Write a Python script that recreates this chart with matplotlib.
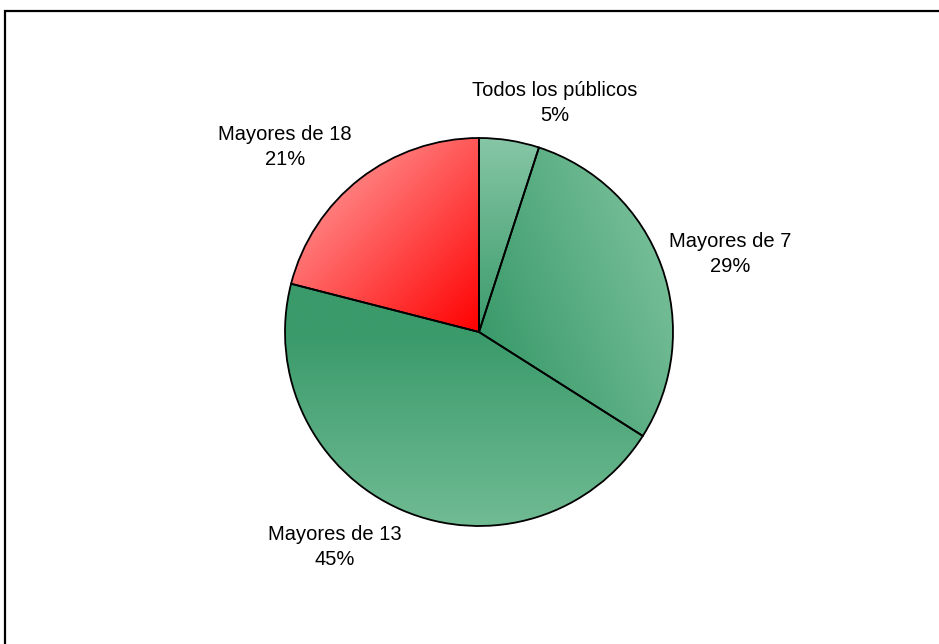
import numpy as np
import matplotlib
matplotlib.use("Agg")
import matplotlib.pyplot as plt
from matplotlib.patches import Rectangle
from matplotlib.colors import to_rgb

# chart data
categories = ["Todos los públicos", "Mayores de 7", "Mayores de 13", "Mayores de 18"]
shares = [5, 29, 45, 21]

# look
dark_colors = ["#3A9A6A", "#3A9A6A", "#3A9A6A", "#FF0000"]
light_colors = ["#86C6A6", "#74BD96", "#70BB93", "#FF7C7C"]
grad_dirs = [90, 22, -90, 135]  # direction (deg) in which each fill gets lighter
label_pos = [(555, 103), (730, 254), (335, 547), (285, 147)]  # pixel centres of labels

W, H = 939, 644
fig = plt.figure(figsize=(W / 100, H / 100), dpi=100)
plt.rcParams["font.family"] = ["Liberation Sans", "DejaVu Sans"]
ax = fig.add_axes([0, 0, 1, 1])

cx, cy, R = 479, H - 332, 194
wedges, _ = ax.pie(shares, center=(cx, cy), radius=R, startangle=90,
                   counterclock=False, frame=True,
                   wedgeprops=dict(edgecolor="black", linewidth=1.3, facecolor="none"))

# gradient fill for every wedge: dark near the centre, lighter outwards
xs = np.linspace(cx - R, cx + R, 400)
ys = np.linspace(cy - R, cy + R, 400)
X, Y = np.meshgrid(xs, ys)
for w, dc, lc, ang in zip(wedges, dark_colors, light_colors, grad_dirs):
    a = np.deg2rad(ang)
    t = ((X - cx) * np.cos(a) + (Y - cy) * np.sin(a)) / R
    t = np.clip(t, 0, 1)[..., None]
    img = np.array(to_rgb(dc)) * (1 - t) + np.array(to_rgb(lc)) * t
    im = ax.imshow(img, extent=(cx - R, cx + R, cy - R, cy + R), origin="lower",
                   zorder=0.5, interpolation="bilinear")
    im.set_clip_path(w)
    w.set_zorder(1)
ax.set_xlim(0, W)
ax.set_ylim(0, H)
ax.set_aspect("equal")
ax.axis("off")

for name, val, (px, py) in zip(categories, shares, label_pos):
    ax.text(px, H - py, f"{name}\n{val}%", ha="center", va="center",
            fontsize=14.5, linespacing=1.35, color="black")

# chart border (cut off at right and bottom)
fig.patches.append(Rectangle((5 / W, -0.1), 1.1, (H - 11) / H + 0.1,
                             transform=fig.transFigure, fill=False,
                             edgecolor="black", linewidth=1.6))

fig.savefig("out.png", dpi=100)
